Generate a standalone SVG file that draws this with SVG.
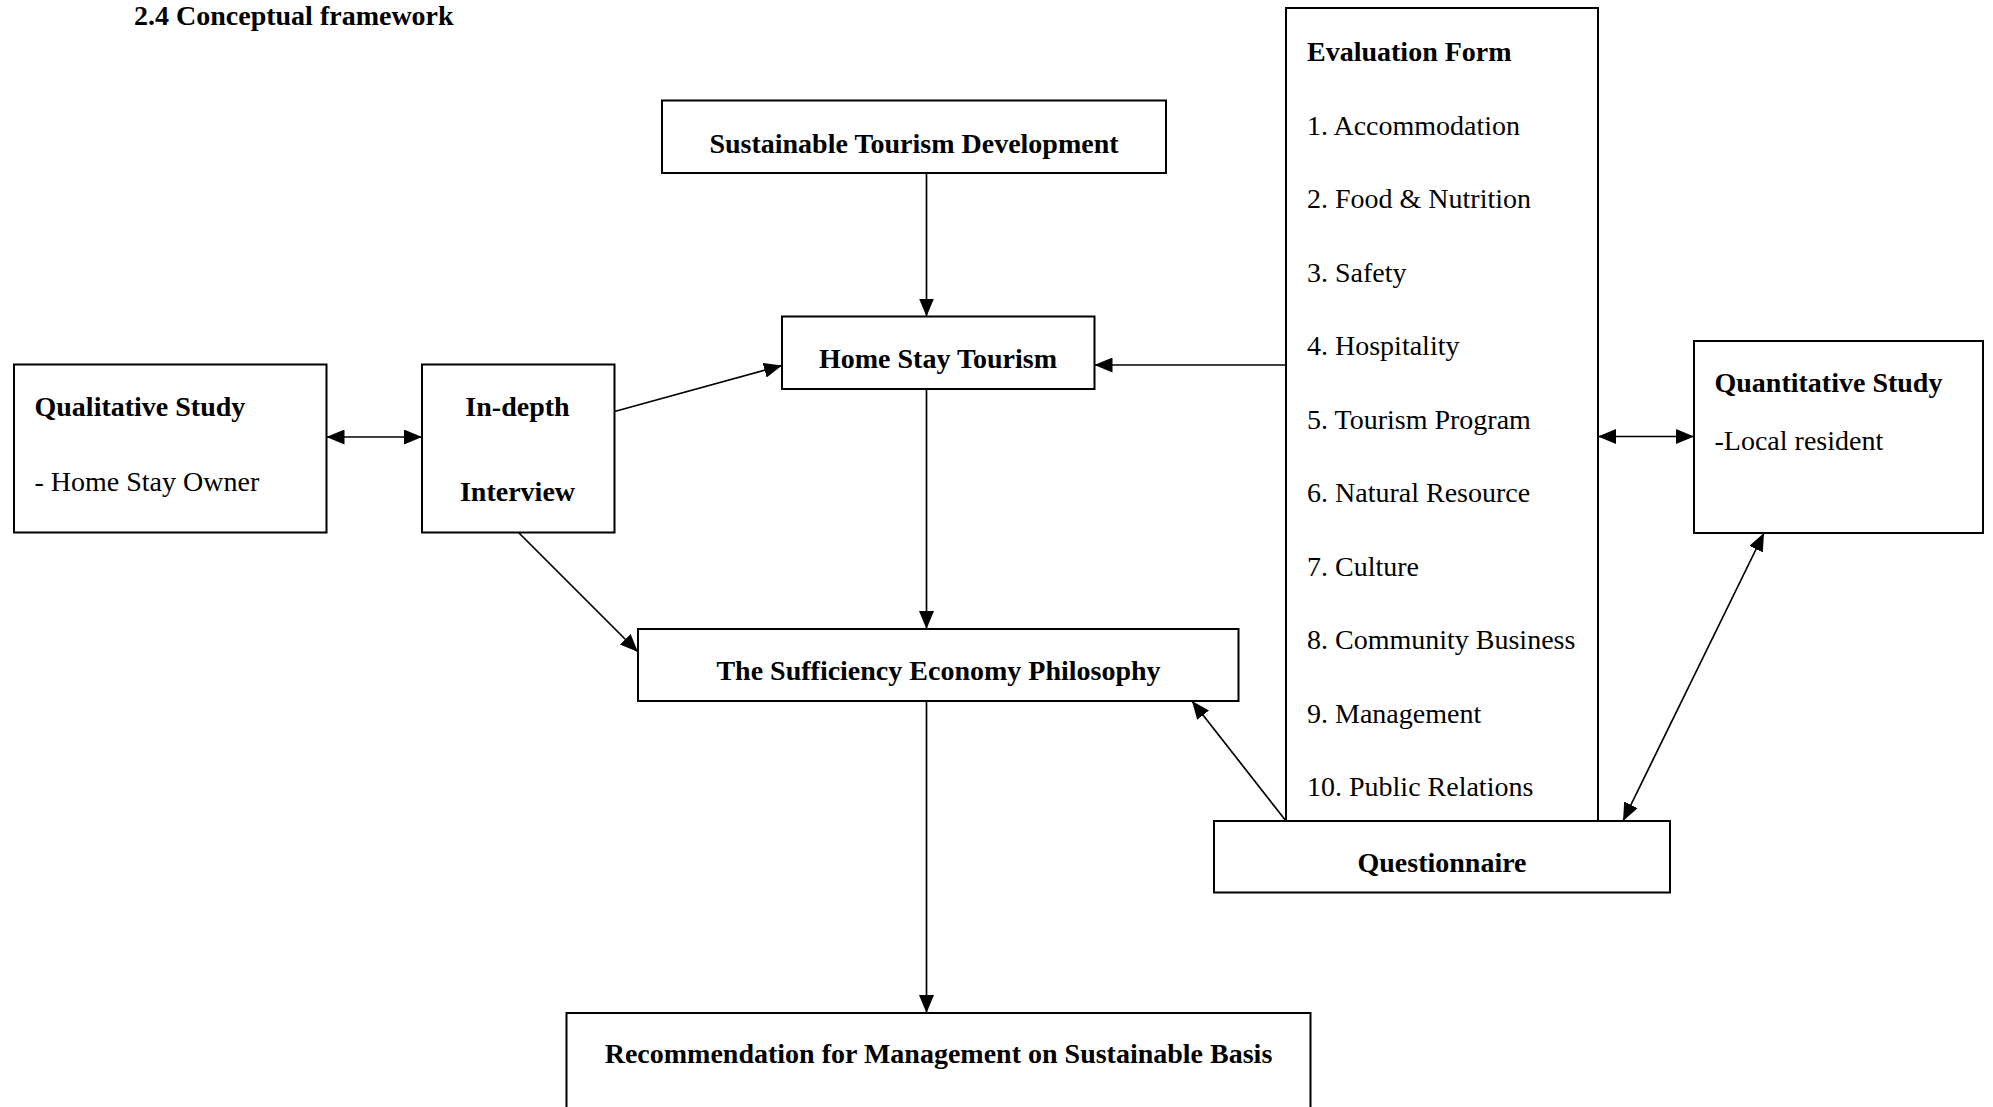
<svg xmlns="http://www.w3.org/2000/svg" width="1993" height="1107" viewBox="0 0 1993 1107">
  <style>
    .box { fill: #ffffff; stroke: #000000; stroke-width: 2; }
    .b { font-family: "Liberation Serif", "Times New Roman", serif; font-size: 28px; font-weight: bold; fill: #000000; }
    .r { font-family: "Liberation Serif", "Times New Roman", serif; font-size: 28px; font-weight: normal; fill: #000000; }
    .mid { text-anchor: middle; }
    .conn { stroke: #000000; stroke-width: 1.7; fill: none; marker-end: url(#arr); }
    .dbl { marker-start: url(#arr); }
  </style>
  <defs>
    <marker id="arr" markerUnits="userSpaceOnUse" markerWidth="18" markerHeight="15" viewBox="0 0 18 15" refX="18" refY="7.5" orient="auto-start-reverse">
      <path d="M0,0 L18,7.5 L0,15 z" fill="#000000"/>
    </marker>
  </defs>
  <rect x="0" y="0" width="1993" height="1107" fill="#ffffff"/>

  <text id="title" class="b" x="134" y="25">2.4 Conceptual framework</text>

  <g id="sustainable-tourism">
    <rect class="box" x="662" y="100.5" width="504" height="72.5"/>
    <text class="b mid" x="914" y="152.5">Sustainable Tourism Development</text>
  </g>

  <g id="home-stay">
    <rect class="box" x="782" y="316.5" width="312.5" height="72.5"/>
    <text class="b mid" x="938" y="367.5">Home Stay Tourism</text>
  </g>

  <g id="qualitative">
    <rect class="box" x="14" y="364.5" width="312.5" height="168"/>
    <text class="b" x="34.5" y="416">Qualitative Study</text>
    <text class="r" x="34.5" y="490.5">- Home Stay Owner</text>
  </g>

  <g id="in-depth">
    <rect class="box" x="422" y="364.5" width="192.5" height="168"/>
    <text class="b mid" x="517.5" y="416">In-depth</text>
    <text class="b mid" x="517.5" y="501">Interview</text>
  </g>

  <g id="sufficiency">
    <rect class="box" x="638" y="629" width="600.5" height="72"/>
    <text class="b mid" x="938.5" y="680">The Sufficiency Economy Philosophy</text>
  </g>

  <g id="recommendation">
    <rect class="box" x="566.5" y="1013" width="744" height="120"/>
    <text class="b mid" x="938.5" y="1063">Recommendation for Management on Sustainable Basis</text>
  </g>

  <g id="evaluation-form">
    <rect class="box" x="1286" y="8" width="312" height="813"/>
    <text class="b" x="1307" y="61">Evaluation Form</text>
    <text class="r" x="1307" y="134.5">1. Accommodation</text>
    <text class="r" x="1307" y="208">2. Food &amp; Nutrition</text>
    <text class="r" x="1307" y="281.5">3. Safety</text>
    <text class="r" x="1307" y="355">4. Hospitality</text>
    <text class="r" x="1307" y="428.5">5. Tourism Program</text>
    <text class="r" x="1307" y="502">6. Natural Resource</text>
    <text class="r" x="1307" y="575.5">7. Culture</text>
    <text class="r" x="1307" y="649">8. Community Business</text>
    <text class="r" x="1307" y="722.5">9. Management</text>
    <text class="r" x="1307" y="796">10. Public Relations</text>
  </g>

  <g id="quantitative">
    <rect class="box" x="1694" y="341" width="289" height="192"/>
    <text class="b" x="1714.5" y="392">Quantitative Study</text>
    <text class="r" x="1714.5" y="450">-Local resident</text>
  </g>

  <g id="questionnaire">
    <rect class="box" x="1214" y="821" width="456" height="71.5"/>
    <text class="b mid" x="1442" y="871.5">Questionnaire</text>
  </g>

  <g id="connectors">
    <line class="conn" x1="926.5" y1="173" x2="926.5" y2="316.5"/>
    <line class="conn" x1="926.5" y1="389" x2="926.5" y2="629"/>
    <line class="conn" x1="926.5" y1="701" x2="926.5" y2="1013"/>
    <line class="conn" x1="1286" y1="365" x2="1094.5" y2="365"/>
    <line class="conn dbl" x1="326.5" y1="437" x2="422" y2="437"/>
    <line class="conn" x1="614.5" y1="411.5" x2="782" y2="365.5"/>
    <line class="conn" x1="519" y1="533" x2="638" y2="652"/>
    <line class="conn" x1="1286" y1="821" x2="1192" y2="701"/>
    <line class="conn dbl" x1="1598" y1="436.5" x2="1694" y2="436.5"/>
    <line class="conn dbl" x1="1764" y1="533" x2="1623" y2="821"/>
  </g>
</svg>
